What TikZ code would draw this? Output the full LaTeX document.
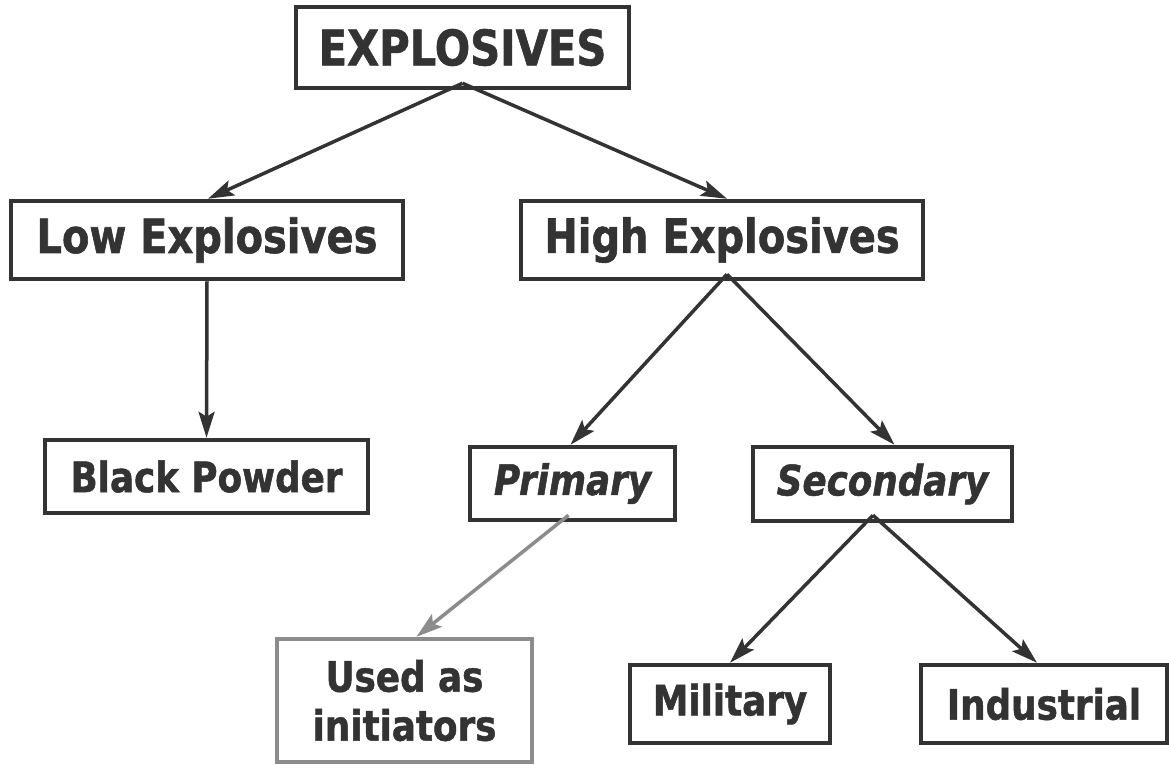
\documentclass[tikz,border=0pt]{standalone}
\usepackage{fontspec}
\setmainfont{DejaVu Sans}[FakeStretch=0.85, BoldFeatures={FakeBold=1.2}, BoldItalicFeatures={FakeBold=1.2}]
\usetikzlibrary{arrows.meta,calc}
\definecolor{ink}{HTML}{333333}
\definecolor{soft}{HTML}{8C8C8C}
\begin{document}
\begin{tikzpicture}[x=1pt,y=-1pt,
  box/.style={draw=ink, line width=4.5pt, text=ink, inner sep=0pt, font=\bfseries},
  big/.style={font=\fontsize{49}{54}\selectfont\bfseries},
  mid/.style={font=\fontsize{47}{54}\selectfont\bfseries},
  small/.style={font=\fontsize{42}{49}\selectfont\bfseries},
  smallit/.style={font=\fontsize{42}{49}\selectfont\bfseries\itshape},
  link/.style={draw=ink, line width=3.5pt, -{Stealth[length=26pt,width=16pt,inset=5pt]}},
  softlink/.style={draw=soft, line width=3.5pt, -{Stealth[length=26pt,width=16pt,inset=5pt]}}
]
\useasboundingbox[fill=white] (0,0) rectangle (1169,765);

\node[box,big,minimum width=333pt,minimum height=81pt] (E) at (462.5,47.5) {EXPLOSIVES};
\node[box,mid,minimum width=392pt,minimum height=78pt] (L) at (207,240) {Low Explosives};
\node[box,mid,minimum width=402pt,minimum height=78pt] (H) at (722,240) {High Explosives};
\node[box,small,minimum width=323pt,minimum height=73pt] (B) at (206.5,476.5) {Black Powder};
\node[box,smallit,minimum width=205pt,minimum height=73pt] (P) at (572.5,483.5) {Primary};
\node[box,smallit,minimum width=259pt,minimum height=74pt] (S) at (882.5,484) {Secondary};
\node[box,small,draw=soft,align=center,minimum width=255pt,minimum height=123pt] (U) at (404.5,700.5) {Used as\\initiators};
\node[box,small,minimum width=200pt,minimum height=78pt] (M) at (730,704) {Military};
\node[box,small,minimum width=246pt,minimum height=78pt] (I) at (1044,704) {Industrial};

\coordinate (Eapex) at ($(E.south)+(0,-7)$);
\coordinate (Hapex) at ($(H.south)+(5,-7)$);
\coordinate (Sapex) at ($(S.south)+(-9.5,-8)$);
\coordinate (Papex) at ($(P.south)+(-4,-7)$);

\draw[link] (Eapex) -- ($(L.north)+(1,0)$);
\draw[link] (Eapex) -- ($(H.north)+(5,0)$);
\draw[link] (L.south) -- (B.north);
\draw[link] (Hapex) -- ($(P.north)+(-2,0)$);
\draw[link] (Hapex) -- ($(S.north)+(12,0)$);
\draw[softlink] (Papex) -- ($(U.north)+(12,0)$);
\draw[link] (Sapex) -- (M.north);
\draw[link] (Sapex) -- ($(I.north)+(-7,0)$);
\end{tikzpicture}
\end{document}
